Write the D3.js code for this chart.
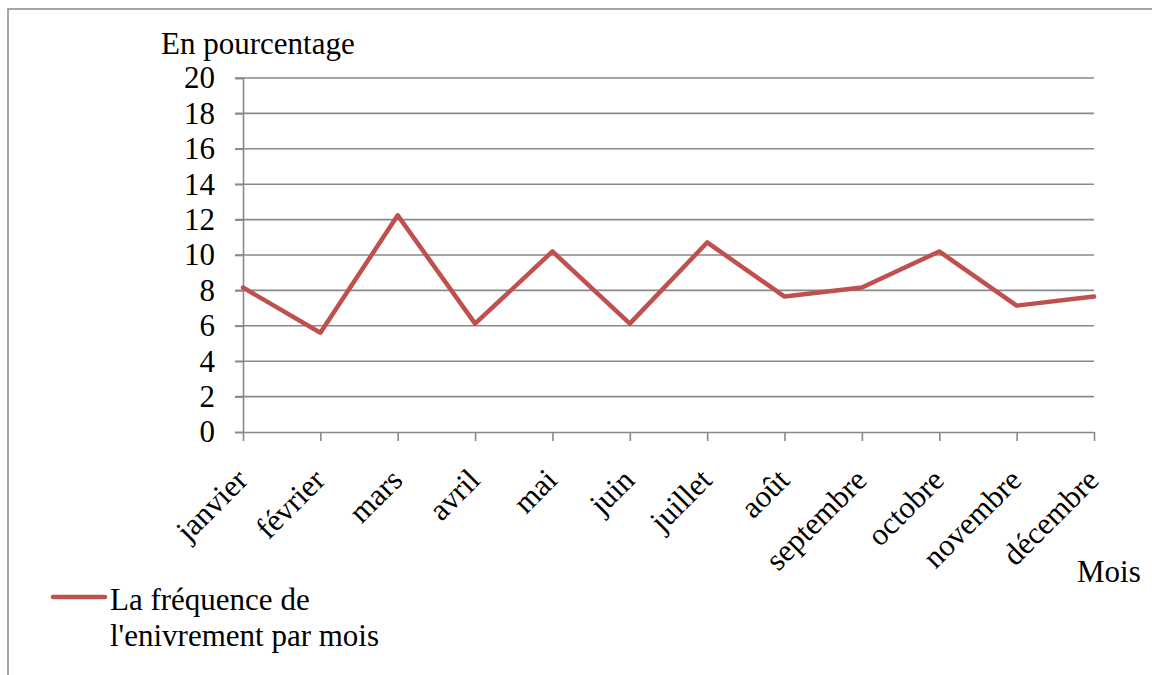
<!DOCTYPE html>
<html>
<head>
<meta charset="utf-8">
<script src="https://cdn.jsdelivr.net/npm/d3@7"></script>
<style>
  body { margin: 0; background: #fff; }
  text { font-family: "Liberation Serif", "Times New Roman", serif; fill: #000; }
</style>
</head>
<body>
<svg id="chart" width="1152" height="675"></svg>
<script>
// months and share (in %) of drunkenness per month
let months = ["janvier", "février", "mars", "avril", "mai", "juin", "juillet",
  "août", "septembre", "octobre", "novembre", "décembre"]
let values = [8.16, 5.61, 12.24, 6.12, 10.2, 6.12, 10.71, 7.65, 8.16, 10.2, 7.14, 7.65]
let yTicks = [0, 2, 4, 6, 8, 10, 12, 14, 16, 18, 20]
let seriesName = ["La fréquence de", "l'enivrement par mois"]

let svg = d3.select("#chart")
let fontSize = 31
let grey = "#898989"
let red = "#C0504D"

// outer frame (only top and left edges are visible)
svg.append("path")
  .attr("d", "M8,676 L8,9 L1153,9")
  .attr("fill", "none")
  .attr("stroke", grey)
  .attr("stroke-width", 1.5)

let x = d3.scalePoint()
  .domain(months)
  .range([243, 1094])

let y = d3.scaleLinear()
  .domain([0, 20])
  .range([432, 78])

// horizontal gridlines
svg.append("g")
  .selectAll("line")
  .data(yTicks.filter(d => d > 0))
  .enter()
  .append("line")
  .attr("x1", 235)
  .attr("x2", 1094)
  .attr("y1", d => y(d))
  .attr("y2", d => y(d))
  .attr("stroke", grey)
  .attr("stroke-width", 1.6)

// y axis
let yAxis = svg.append("g")
  .attr("transform", "translate(243,0)")
  .call(d3.axisLeft(y).tickValues(yTicks).tickSize(8).tickPadding(20))
yAxis.select(".domain").attr("stroke", grey).attr("stroke-width", 1.6)
yAxis.selectAll(".tick line").attr("stroke", grey).attr("stroke-width", 1.6)
yAxis.selectAll(".tick text")
  .style("font-size", fontSize + "px")
  .style("font-family", "Liberation Serif, serif")
  .attr("fill", "#000")

// x axis
let xAxis = svg.append("g")
  .attr("transform", "translate(0,432)")
  .call(d3.axisBottom(x).tickSize(9).tickSizeOuter(0))
xAxis.select(".domain").attr("stroke", grey).attr("stroke-width", 1.6)
xAxis.selectAll(".tick line").attr("stroke", grey).attr("stroke-width", 1.6)
xAxis.selectAll(".tick text")
  .style("font-size", fontSize + "px")
  .style("font-family", "Liberation Serif, serif")
  .attr("fill", "#000")
  .attr("text-anchor", "end")
  .attr("x", 0)
  .attr("y", 0)
  .attr("dy", 0)
  .attr("transform", "translate(6,50) rotate(-45)")

// the series
let line = d3.line()
  .x((d, i) => x(months[i]))
  .y(d => y(d))

svg.append("path")
  .datum(values)
  .attr("d", line)
  .attr("fill", "none")
  .attr("stroke", red)
  .attr("stroke-width", 4.5)
  .attr("stroke-linejoin", "round")
  .attr("stroke-linecap", "round")

// axis titles
svg.append("text")
  .attr("x", 161)
  .attr("y", 54)
  .style("font-size", fontSize + "px")
  .text("En pourcentage")

svg.append("text")
  .attr("x", 1077)
  .attr("y", 582)
  .style("font-size", fontSize + "px")
  .text("Mois")

// legend
svg.append("line")
  .attr("x1", 53)
  .attr("x2", 105)
  .attr("y1", 597)
  .attr("y2", 597)
  .attr("stroke", red)
  .attr("stroke-width", 4.5)
  .attr("stroke-linecap", "round")

svg.append("g")
  .selectAll("text")
  .data(seriesName)
  .enter()
  .append("text")
  .attr("x", 110)
  .attr("y", (d, i) => 610 + i * 36)
  .style("font-size", fontSize + "px")
  .text(d => d)
</script>
</body>
</html>
